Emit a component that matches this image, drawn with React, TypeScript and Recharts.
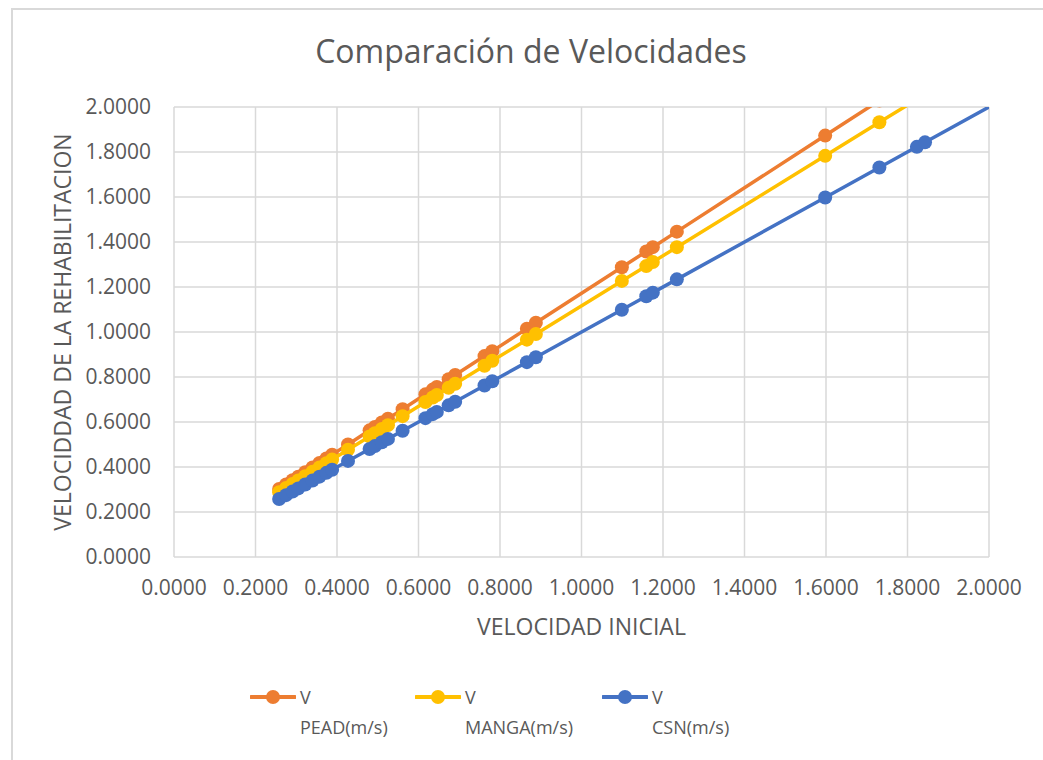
import React from 'react';
import { ScatterChart, Scatter, XAxis, YAxis, CartesianGrid } from 'recharts';

// Velocidad inicial (eje X) para cada tramo medido
const VEL_INICIAL = [
  0.258, 0.275, 0.291, 0.305, 0.322, 0.34, 0.357, 0.374, 0.388, 0.427,
  0.48, 0.493, 0.51, 0.525, 0.561, 0.617, 0.635, 0.645, 0.674, 0.69,
  0.762, 0.781, 0.866, 0.888, 1.099, 1.159, 1.175, 1.234, 1.598, 1.731,
  1.823, 1.843, 2.08,
];

// Velocidad después de la rehabilitación, por material
const V_PEAD = [
  0.302, 0.322, 0.341, 0.357, 0.377, 0.398, 0.418, 0.438, 0.455, 0.5,
  0.563, 0.578, 0.598, 0.615, 0.657, 0.723, 0.744, 0.756, 0.79, 0.809,
  0.893, 0.915, 1.015, 1.041, 1.288, 1.358, 1.377, 1.446, 1.873, 2.029,
  2.137, 2.16, 2.438,
];
const V_MANGA = [
  0.288, 0.307, 0.325, 0.34, 0.359, 0.379, 0.398, 0.417, 0.433, 0.477,
  0.536, 0.55, 0.569, 0.586, 0.626, 0.689, 0.709, 0.72, 0.752, 0.77,
  0.85, 0.872, 0.966, 0.991, 1.227, 1.293, 1.311, 1.377, 1.783, 1.932,
  2.034, 2.057, 2.321,
];
const V_CSN = [
  0.258, 0.275, 0.291, 0.305, 0.322, 0.34, 0.357, 0.374, 0.388, 0.427,
  0.48, 0.493, 0.51, 0.525, 0.561, 0.617, 0.635, 0.645, 0.674, 0.69,
  0.762, 0.781, 0.866, 0.888, 1.099, 1.159, 1.175, 1.234, 1.598, 1.731,
  1.823, 1.843, 2.08,
];

const AXIS_TICKS = [0, 0.2, 0.4, 0.6, 0.8, 1.0, 1.2, 1.4, 1.6, 1.8, 2.0];

const TITLE = 'Comparación de Velocidades';
const X_TITLE = 'VELOCIDAD INICIAL';
const Y_TITLE = 'VELOCIDDAD DE LA REHABILITACION';

const SERIES = [
  { key: 'pead', top: 'V', bottom: 'PEAD(m/s)', color: '#ED7D31', values: V_PEAD },
  { key: 'manga', top: 'V', bottom: 'MANGA(m/s)', color: '#FFC000', values: V_MANGA },
  { key: 'csn', top: 'V', bottom: 'CSN(m/s)', color: '#4472C4', values: V_CSN },
];

const FONT = '"Open Sans", "Noto Sans", sans-serif';
const TEXT = '#595959';
const GRID = '#d9d9d9';
const LEGEND_LEFT = [250, 415, 602];

const W = 1043;
const H = 760;

const Dot = (props: any) => {
  const { cx, cy, fill } = props;
  if (cx == null || cy == null) return null;
  return <circle cx={cx} cy={cy} r={7} fill={fill} />;
};

const fmt = (v: number) => v.toFixed(4);

export default function App() {
  return (
    <div
      style={{
        position: 'absolute',
        left: 0,
        top: 0,
        width: W,
        height: H,
        overflow: 'hidden',
        background: '#fff',
        fontFamily: FONT,
      }}
    >
      {/* chart area frame */}
      <div
        style={{
          position: 'absolute',
          left: 11,
          top: 8,
          width: W,
          height: H,
          borderLeft: `2px solid ${GRID}`,
          borderTop: `2px solid ${GRID}`,
          boxSizing: 'border-box',
        }}
      />
      <div
        style={{
          position: 'absolute',
          left: 11,
          width: 1040,
          top: 29,
          textAlign: 'center',
          fontSize: 32,
          color: TEXT,
          lineHeight: '44px',
        }}
      >
        {TITLE}
      </div>

      <div style={{ position: 'absolute', left: 0, top: 0 }}>
        <ScatterChart
          width={W}
          height={H}
          margin={{ top: 107, right: 54, bottom: 123, left: 0 }}
        >
          <CartesianGrid stroke={GRID} strokeWidth={1.5} />
          <XAxis
            type="number"
            dataKey="x"
            domain={[0, 2]}
            ticks={AXIS_TICKS}
            allowDataOverflow
            tickFormatter={fmt}
            axisLine={false}
            tickLine={false}
            tickSize={0}
            tickMargin={23}
            height={80}
            interval={0}
            tick={{ fill: TEXT, fontSize: 21, fontFamily: FONT }}
            label={{
              content: (p: any) => {
                const vb = p.viewBox;
                return (
                  <text
                    x={vb.x + vb.width / 2}
                    y={vb.y + 69}
                    textAnchor="middle"
                    dominantBaseline="central"
                    fill={TEXT}
                    fontSize={23}
                    fontFamily={FONT}
                  >
                    {X_TITLE}
                  </text>
                );
              },
            }}
          />
          <YAxis
            type="number"
            dataKey="y"
            domain={[0, 2]}
            ticks={AXIS_TICKS}
            allowDataOverflow
            tickFormatter={fmt}
            axisLine={false}
            tickLine={false}
            tickSize={0}
            tickMargin={23}
            width={174}
            interval={0}
            tick={{ fill: TEXT, fontSize: 21, fontFamily: FONT }}
            label={{
              content: (p: any) => {
                const vb = p.viewBox;
                const cx = vb.x + 62;
                const cy = vb.y + vb.height / 2;
                return (
                  <text
                    x={cx}
                    y={cy}
                    transform={`rotate(-90, ${cx}, ${cy})`}
                    textAnchor="middle"
                    dominantBaseline="central"
                    fill={TEXT}
                    fontSize={23}
                    fontFamily={FONT}
                  >
                    {Y_TITLE}
                  </text>
                );
              },
            }}
          />
          {SERIES.map((s) => (
            <Scatter
              key={s.key}
              name={`${s.top} ${s.bottom}`}
              data={VEL_INICIAL.map((x, i) => ({ x, y: s.values[i] }))}
              fill={s.color}
              line={{ stroke: s.color, strokeWidth: 3.5 }}
              lineType="joint"
              shape={Dot}
              isAnimationActive={false}
            />
          ))}
        </ScatterChart>
      </div>

      {/* legend */}
      {SERIES.map((s, i) => (
        <div
          key={s.key}
          style={{ position: 'absolute', left: LEGEND_LEFT[i], top: 682, color: TEXT, fontSize: 18 }}
        >
          <svg width={46} height={30} style={{ position: 'absolute', left: 0, top: 0 }}>
            <line x1={1} y1={15} x2={45} y2={15} stroke={s.color} strokeWidth={4} strokeLinecap="round" />
            <circle cx={23} cy={15} r={7} fill={s.color} />
          </svg>
          <div style={{ position: 'absolute', left: 50, top: 0, lineHeight: '30px', whiteSpace: 'nowrap' }}>
            {s.top}
          </div>
          <div style={{ position: 'absolute', left: 50, top: 30, lineHeight: '30px', whiteSpace: 'nowrap' }}>
            {s.bottom}
          </div>
        </div>
      ))}
    </div>
  );
}
